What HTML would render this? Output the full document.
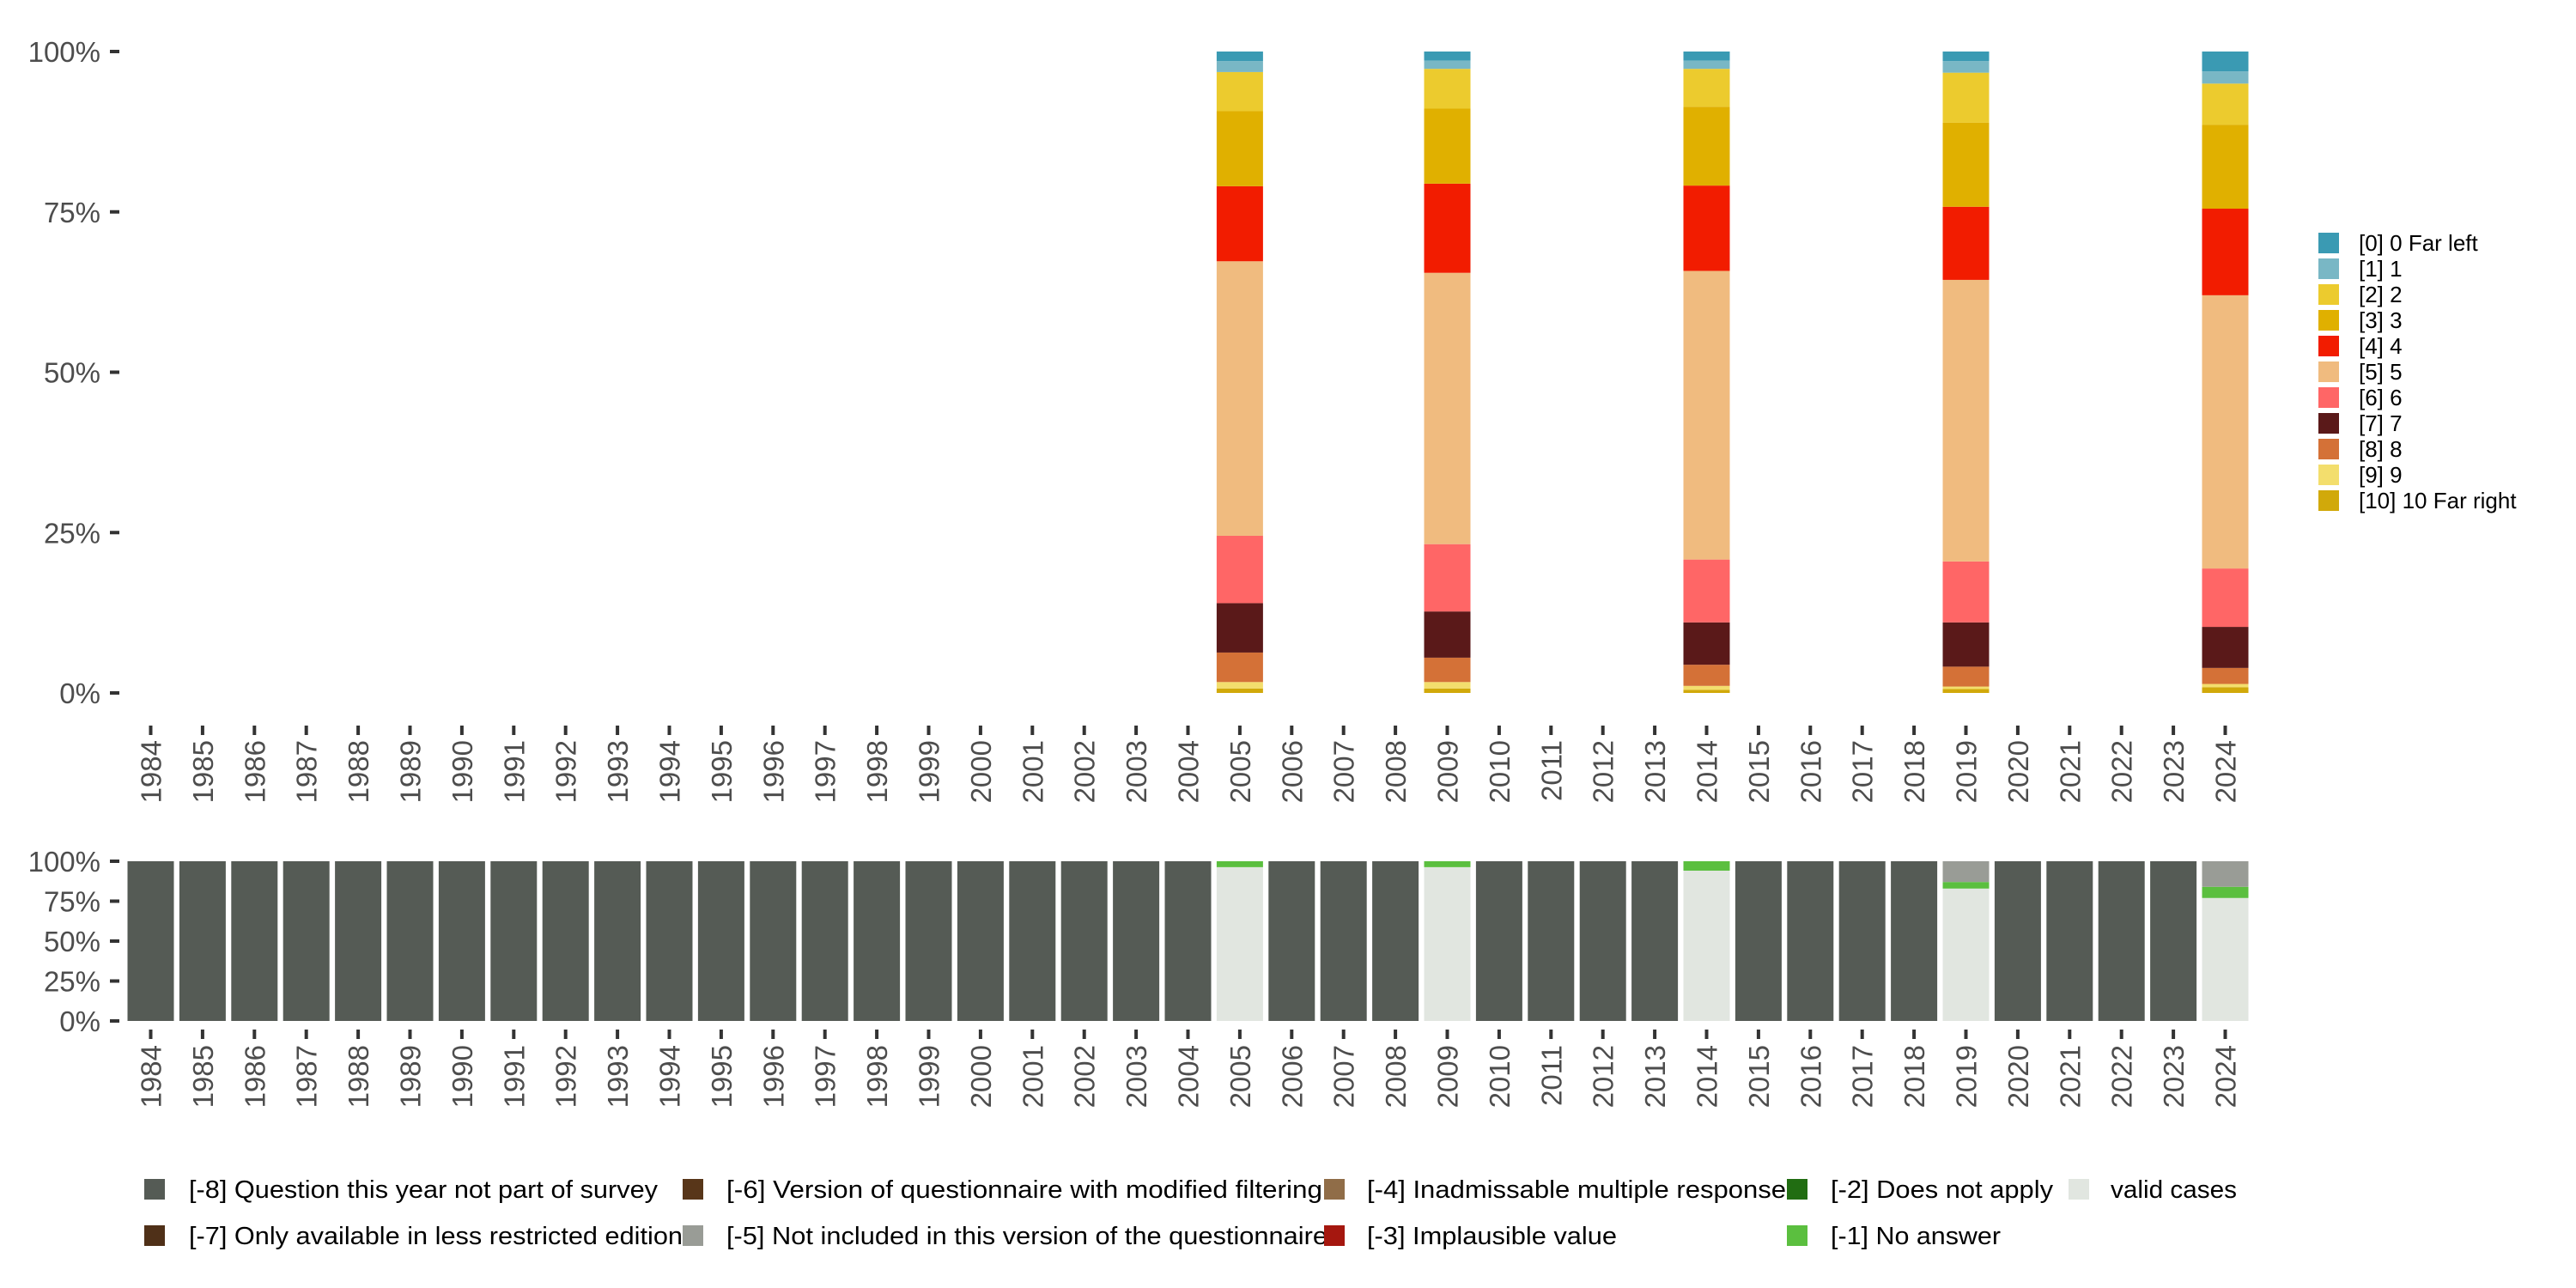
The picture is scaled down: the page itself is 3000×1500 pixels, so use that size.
<!DOCTYPE html>
<html><head><meta charset="utf-8"><style>
html,body{margin:0;padding:0;background:#fff;}
svg{display:block;font-family:"Liberation Sans",sans-serif;}
</style></head><body>
<svg id="chart" width="3000" height="1500" viewBox="0 0 3000 1500" xmlns="http://www.w3.org/2000/svg"></svg>
<script>
const years = [];
for (let y = 1984; y <= 2024; y++) years.push(y);
const surveyYears = [2005, 2009, 2014, 2019, 2024];
const categories = ["[0] 0 Far left","[1] 1","[2] 2","[3] 3","[4] 4","[5] 5","[6] 6","[7] 7","[8] 8","[9] 9","[10] 10 Far right"];
const catColors = ["#3A9AB3","#79B7C5","#ECCB2E","#E0B000","#F21C00","#F0BB7F","#FF6666","#5A1919","#D47137","#F3DE6D","#D1A90A"];
// share per category (percent), one array per survey year
const v2005 = [1.5,1.7,6.1,11.7,11.7,42.8,10.5,7.7,4.6,1.0,0.7];
const v2009 = [1.4,1.3,6.2,11.7,13.9,42.3,10.5,7.2,3.8,1.0,0.7];
const v2014 = [1.4,1.3,5.9,12.3,13.3,45.0,9.8,6.6,3.3,0.6,0.5];
const v2019 = [1.5,1.8,7.8,13.1,11.4,43.9,9.5,6.9,3.1,0.4,0.6];
const v2024 = [3.1,1.9,6.4,13.1,13.5,42.6,9.1,6.4,2.5,0.5,0.9];
const topValues = [v2005, v2009, v2014, v2019, v2024];
// bottom chart: missing shares per survey year (percent)
const notInVersion = [0, 0, 0, 13, 16];
const noAnswer = [3.7, 3.7, 5.9, 4.1, 7];
const yTicks = [0, 25, 50, 75, 100];
const yTickLabels = ["0%","25%","50%","75%","100%"];

const svg = document.getElementById('chart');
const NS = 'http://www.w3.org/2000/svg';
function mk(tag, attrs, parent) {
  const e = document.createElementNS(NS, tag);
  for (const k in attrs) e.setAttribute(k, attrs[k]);
  (parent || svg).appendChild(e);
  return e;
}
const X0 = 175.5, DX = 60.4, BW = 54;
const xScale = y => X0 + (y - 1984) * DX;
const topY = v => 807 - v / 100 * 747;
const botY = v => 1189 - v / 100 * 186;

function yAxis(scale, name) {
  const g = mk('g', {});
  
  
  yTicks.forEach((t, i) => {
    const y = scale(t);
    const tk = mk('rect', {x: 128, y: y - 2, width: 11, height: 4, fill: '#333'}, g);
    
    
    const tx = mk('text', {x: 117, y: y + 12, 'text-anchor': 'end', 'font-size': 33, fill: '#4d4d4d'}, g);
    
    
    tx.textContent = yTickLabels[i];
  });
}
function xAxis(tickY, labelY, name) {
  const g = mk('g', {});
  
  
  years.forEach(yr => {
    const x = xScale(yr);
    const tk = mk('rect', {x: x - 2, y: tickY, width: 4, height: 11, fill: '#333'}, g);
    
    
    const tx = mk('text', {x: 0, y: 0, 'text-anchor': 'end', 'font-size': 33, fill: '#4d4d4d',
      transform: `translate(${x + 12},${labelY}) rotate(-90)`}, g);
    
    
    tx.textContent = yr;
  });
}

// top chart
yAxis(topY, 'top-y-axis');
xAxis(845, 862, 'top-x-axis');
surveyYears.forEach((yr, i) => {
  const g = mk('g', {});
  
  
  let cum = 0;
  for (let c = categories.length - 1; c >= 0; c--) {
    const v = topValues[i][c];
    const r = mk('rect', {x: xScale(yr) - BW / 2, y: topY(cum + v), width: BW, height: topY(cum) - topY(cum + v), fill: catColors[c]}, g);
    
    
    cum += v;
  }
});

// right legend
const lg = mk('g', {});


categories.forEach((c, i) => {
  const y = 283 + i * 30;
  const k = mk('rect', {x: 2700, y: y - 12, width: 24, height: 24, fill: catColors[i]}, lg);
  
  
  const t = mk('text', {x: 2747, y: y + 9, 'font-size': 26, fill: '#000'}, lg);
  
  
  t.textContent = c;
});

// bottom chart
yAxis(botY, 'bottom-y-axis');
xAxis(1199, 1217, 'bottom-x-axis');
years.forEach(yr => {
  const g = mk('g', {});
  
  
  const x = xScale(yr) - BW / 2;
  const si = surveyYears.indexOf(yr);
  if (si < 0) {
    const r = mk('rect', {x: x, y: botY(100), width: BW, height: botY(0) - botY(100), fill: '#555B55'}, g);
    
    
  } else {
    const nv = notInVersion[si], na = noAnswer[si], valid = 100 - nv - na;
    const r1 = mk('rect', {x: x, y: botY(valid), width: BW, height: botY(0) - botY(valid), fill: '#E1E6E0'}, g);
    
    
    const r2 = mk('rect', {x: x, y: botY(valid + na), width: BW, height: botY(valid) - botY(valid + na), fill: '#5BBF3F'}, g);
    
    
    const r3 = mk('rect', {x: x, y: botY(100), width: BW, height: botY(valid + na) - botY(100), fill: '#999C96'}, g);
    
    
  }
});

// bottom legend
const missingLabels = ["[-8] Question this year not part of survey","[-6] Version of questionnaire with modified filtering","[-4] Inadmissable multiple response","[-2] Does not apply","valid cases","[-7] Only available in less restricted edition","[-5] Not included in this version of the questionnaire","[-3] Implausible value","[-1] No answer"];
const missingColors = ["#555B55","#583619","#906D48","#216D12","#E1E6E0","#4F3018","#999C96","#A5170F","#5BBF3F"];
const keyXs = [168,795,1542,2081,2409,168,795,1542,2081];
const textXs = [220,846,1592,2132,2458,220,846,1592,2132];
const textWs = [546,694,488,259,147,575,700,291,198];
const rowYs = [1385,1385,1385,1385,1385,1439,1439,1439,1439];
const bl = mk('g', {});


missingLabels.forEach((l, i) => {
  const k = mk('rect', {x: keyXs[i], y: rowYs[i] - 12, width: 24, height: 24, fill: missingColors[i]}, bl);
  
  
  const t = mk('text', {x: textXs[i], y: rowYs[i] + 10, 'font-size': 29, fill: '#000', textLength: textWs[i], lengthAdjust: 'spacingAndGlyphs'}, bl);
  
  
  t.textContent = l;
});
</script>
</body></html>
